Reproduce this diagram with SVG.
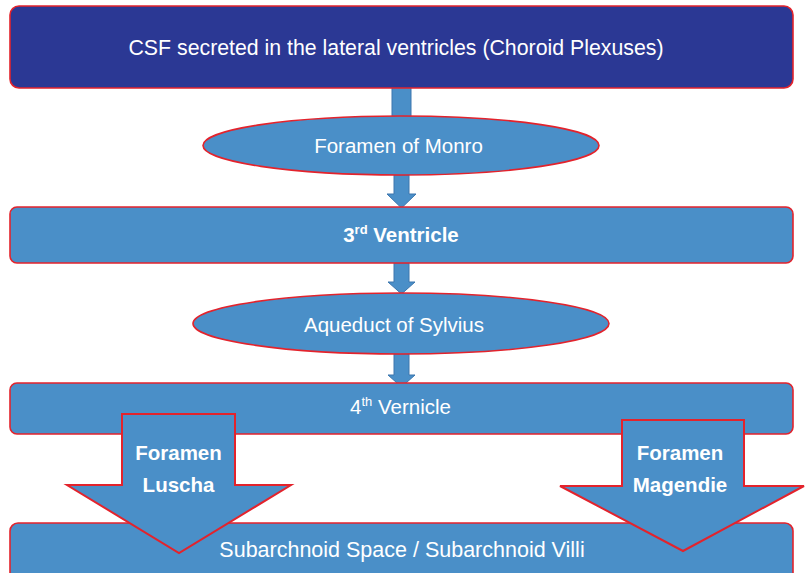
<svg xmlns="http://www.w3.org/2000/svg" width="805" height="573" viewBox="0 0 805 573">
  <style>
    .box { fill: #4A8FC8; stroke: #E3232C; stroke-width: 1.6; }
    .dark { fill: #2B3894; stroke: #E3232C; stroke-width: 1.6; }
    .step { fill: #4A8FC8; stroke: #3C76AE; stroke-width: 1; }
    .big { fill: #4A8FC8; stroke: #E3232C; stroke-width: 2; stroke-linejoin: miter; }
    text { font-family: "Liberation Sans", Arial, Helvetica, sans-serif; fill: #FFFFFF; text-anchor: middle; }
    .reg { font-size: 20.5px; }
    .bold { font-size: 20.5px; font-weight: bold; }
  </style>

  <rect width="805" height="573" fill="#FFFFFF"/>

  <!-- small connectors between stages -->
  <g id="connectors">
    <rect class="step" x="392" y="87" width="19" height="32"/>
    <path class="step" d="M394,175 H409 V194 H416 L401.5,208 L387,194 H394 Z"/>
    <path class="step" d="M394,263 H409 V282 H415 L401.5,294 L388,282 H394 Z"/>
    <path class="step" d="M394,354 H409 V375 H415 L401.5,387 L388,375 H394 Z"/>
  </g>

  <g id="csf-source">
    <rect class="dark" x="10" y="6" width="783" height="82" rx="9"/>
    <text x="396" y="55" style="font-size:21.3px">CSF secreted in the lateral ventricles (Choroid Plexuses)</text>
  </g>

  <g id="foramen-monro">
    <ellipse class="box" cx="401" cy="145.5" rx="198" ry="29.5"/>
    <text class="reg" x="398.5" y="153">Foramen of Monro</text>
  </g>

  <g id="third-ventricle">
    <rect class="box" x="10" y="207" width="783" height="56" rx="7"/>
    <text class="bold" x="401" y="242">3<tspan dy="-8" style="font-size:13px">rd</tspan><tspan dy="8"> Ventricle</tspan></text>
  </g>

  <g id="aqueduct-sylvius">
    <ellipse class="box" cx="401" cy="323.5" rx="208" ry="30.5"/>
    <text class="reg" x="394" y="332">Aqueduct of Sylvius</text>
  </g>

  <g id="fourth-ventricle">
    <rect class="box" x="10" y="383" width="783" height="51" rx="7"/>
    <text class="reg" x="400.5" y="414">4<tspan dy="-8" style="font-size:13px">th</tspan><tspan dy="8"> Vernicle</tspan></text>
  </g>

  <g id="subarachnoid">
    <rect class="box" x="10" y="523" width="783" height="62" rx="8"/>
  </g>

  <g id="foramen-luscha">
    <path class="big" d="M122,414 H235 V485 H291 L179,553 L67,485 H122 Z"/>
    <text class="bold" x="178.5" y="460">Foramen</text>
    <text class="bold" x="178.5" y="492">Luscha</text>
  </g>

  <g id="foramen-magendie">
    <path class="big" d="M622,420 H744 V486 H804 L683,551 L560,486 H622 Z"/>
    <text class="bold" x="680" y="460">Foramen</text>
    <text class="bold" x="680" y="492">Magendie</text>
  </g>

  <text x="402" y="557" style="font-size:21.5px">Subarchnoid Space / Subarchnoid Villi</text>
</svg>
